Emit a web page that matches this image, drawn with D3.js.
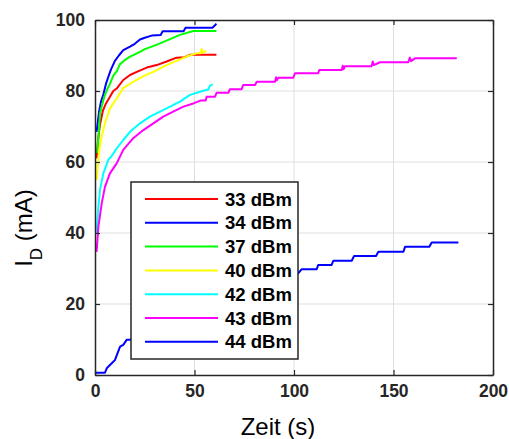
<!DOCTYPE html>
<html><head><meta charset="utf-8">
<script src="https://cdn.jsdelivr.net/npm/d3@7"></script>
<style>
html,body{margin:0;padding:0;background:#fff;}
svg{display:block;font-family:"Liberation Sans",Arial,sans-serif;}
</style></head>
<body>
<script>
// ---- data ----
const seriesNames = ["33 dBm","34 dBm","37 dBm","40 dBm","42 dBm","43 dBm","44 dBm"];
const seriesColors = ["#ff0000","#0000ff","#00ff00","#ffff00","#00ffff","#ff00ff","#0000ff"];
const xTicks = [0,50,100,150,200];
const yTicks = [0,20,40,60,80,100];

const t33 = [0.8,1.5,2.5,4,5.5,7.5,9.2,10.9,14.2,17.6,21,26,31,36,41,45,47.7,61];
const i33 = [61,66,70.5,74.5,76.5,78.4,80,80.7,83.1,84.5,85.4,86.6,87.3,88.3,89.4,89.5,90.2,90.2];

const t34 = [0.8,2,3,4.2,5.5,6.7,8,10,12,14.2,17.6,20,22.6,25,28.5,33,34,44.5,45.5,59,60.3,61];
const i34 = [68.5,74,77,79,82,84,86,88.5,90,91.5,92.5,93.3,94.5,95,95.6,95.8,96.8,96.8,97.8,97.8,98.5,99];

const t37 = [1.2,2.5,4,5,6.6,7.5,9.2,10.9,12.5,15,17.6,20,22.6,25,28.5,32.7,37.7,42.7,49.4,61];
const i37 = [62.5,73.7,77,78.9,81,82,84.3,85.5,87.5,88.7,89.7,90.3,91,91.8,92.5,93.4,94.6,95.8,96.9,96.9];

const t40 = [0.9,1.7,2.5,3.5,5,7.5,10.9,14.2,19.2,24.3,29.3,36,41,46,51,53,53.6,54.2,56];
const i40 = [55,61,64.8,67.5,70.9,75.1,77.9,80.8,82.6,84.2,85.4,87.3,88.5,89.7,90.6,90.6,91.8,90.8,91.3];

const t42 = [0.8,1.7,2.5,4.2,6.7,8.5,10.9,14.2,17.6,22.6,27.6,32.7,37.7,42.7,47.7,52.8,57,57.8,59.1];
const i42 = [39.9,47.4,52.1,56.8,60.6,61.8,63.8,66.2,68.5,70.9,72.8,74.2,75.6,77,78.9,79.8,80.5,81.5,81.9];

const t43 = [0.8,1.7,3.4,5,7.5,10.9,14.2,19.2,24.3,29.3,34.3,39.3,44.4,49.4,53,55.6,56.1,60.3,61.1,67,67.8,73.7,74.5,80.4,81.3,90.5,91,91.4,92.1,99.6,100.5,112.2,112.7,124,124.5,124.9,125.6,139,139.6,140.1,143.2,157.4,158.2,158.8,160.8,181.8];
const i43 = [34.7,41.8,48.4,53,56.8,59.6,63.4,66.7,69,70.9,72.8,74.2,75.6,76.5,77.3,77.3,78.4,78.4,79.5,79.5,80.5,80.5,81.7,81.7,82.6,82.6,83.9,83,83.7,83.7,85,85,85.9,85.9,87.1,86.1,87,87,88.3,87.3,88.1,88.1,89.4,88.4,89.2,89.2];

const t44 = [0,5,5.9,8.4,10,12.6,14.2,15.9,17.6,30,50,70,90,102,103.9,111.4,112.2,118.9,119.8,129,130.2,141.2,142.4,155,155.8,168,169.2,182.6];
const i44 = [0.65,0.65,1.9,3.3,4.2,8,8.5,9.9,9.9,14,19,23,26.5,28.6,29.8,29.8,31,31,32.2,32.2,33.5,33.5,34.7,34.7,36.1,36.1,37.3,37.3];

const seriesT = [t33,t34,t37,t40,t42,t43,t44];
const seriesI = [i33,i34,i37,i40,i42,i43,i44];

// ---- chart ----
const W = 509, H = 439;
const svg = d3.select("body").append("svg").attr("width",W).attr("height",H);
const x = d3.scaleLinear().domain([0,200]).range([95,493]);
const y = d3.scaleLinear().domain([0,100]).range([375,20]);
const axisColor = "#262626";

// grid
const grid = svg.append("g");
grid.selectAll("line.gx").data(xTicks.slice(1,-1)).join("line")
  .attr("x1",d=>x(d)).attr("x2",d=>x(d)).attr("y1",y(0)).attr("y2",y(100))
  .attr("stroke","#dfdfdf").attr("stroke-width",1);
grid.selectAll("line.gy").data(yTicks.slice(1,-1)).join("line")
  .attr("y1",d=>y(d)).attr("y2",d=>y(d)).attr("x1",x(0)).attr("x2",x(200))
  .attr("stroke","#dfdfdf").attr("stroke-width",1);

// series
const line = d3.line().x(d=>x(d[0])).y(d=>y(d[1]));
const lines = svg.append("g").attr("fill","none").attr("stroke-width",2).attr("stroke-linejoin","round");
seriesNames.forEach((n,k)=>{
  const pts = seriesT[k].map((t,j)=>[t,seriesI[k][j]]);
  lines.append("path").attr("d",line(pts)).attr("stroke",seriesColors[k]);
});

// axes (box with inward ticks)
function styleAxis(g){
  g.select(".domain").attr("stroke",axisColor).attr("stroke-width",1.5);
  g.selectAll(".tick line").attr("stroke",axisColor).attr("stroke-width",1.2);
  g.selectAll(".tick text").attr("fill","#262626").attr("font-size",17.5).attr("font-weight","bold")
   .attr("font-family","'Liberation Sans',Arial,sans-serif");
}
const xa = svg.append("g").attr("transform",`translate(0,${y(0)})`)
  .call(d3.axisBottom(x).tickValues(xTicks).tickSizeInner(-5).tickSizeOuter(0).tickPadding(10));
styleAxis(xa);
const xt = svg.append("g").attr("transform",`translate(0,${y(100)})`)
  .call(d3.axisTop(x).tickValues(xTicks).tickSizeInner(-5).tickSizeOuter(0).tickFormat(""));
styleAxis(xt);
const ya = svg.append("g").attr("transform",`translate(${x(0)},0)`)
  .call(d3.axisLeft(y).tickValues(yTicks).tickSizeInner(-5).tickSizeOuter(0).tickPadding(10));
styleAxis(ya);
const yr = svg.append("g").attr("transform",`translate(${x(200)},0)`)
  .call(d3.axisRight(y).tickValues(yTicks).tickSizeInner(-5).tickSizeOuter(0).tickFormat(""));
styleAxis(yr);

// axis labels
svg.append("text").attr("x",278).attr("y",435).attr("text-anchor","middle")
  .attr("font-size",24).attr("fill","#000").text("Zeit (s)");
const yl = svg.append("text").attr("transform","translate(32,228) rotate(-90)")
  .attr("text-anchor","middle").attr("font-size",24).attr("fill","#000");
yl.append("tspan").text("I");
yl.append("tspan").attr("baseline-shift","sub").attr("font-size",17).text("D");
yl.append("tspan").text(" (mA)");

// legend
const lg = svg.append("g");
lg.append("rect").attr("x",131).attr("y",182).attr("width",167).attr("height",177)
  .attr("fill","#fff").attr("stroke","#262626").attr("stroke-width",1.5);
seriesNames.forEach((n,k)=>{
  const yy = 199 + k*23.8;
  lg.append("line").attr("x1",145).attr("x2",218).attr("y1",yy).attr("y2",yy)
    .attr("stroke",seriesColors[k]).attr("stroke-width",2);
  lg.append("text").attr("x",225).attr("y",yy).attr("dy","0.36em")
    .attr("font-size",18.5).attr("font-weight","bold").attr("fill","#000").text(n);
});
</script>
</body></html>
